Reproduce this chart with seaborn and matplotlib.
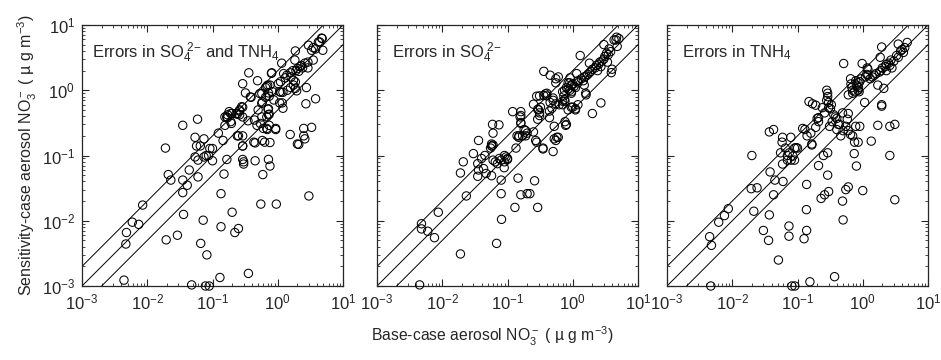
import numpy as np
import pandas as pd
import matplotlib
matplotlib.use("Agg")
import matplotlib.pyplot as plt
import seaborn as sns

# panel 1: errors in SO4 and TNH4
x1 = [4.8, 4.4, 2.95, 3.5, 4.9, 1.86, 3.3, 3.8, 3.5, 1.83, 1.15, 2.9, 2.6, 2.3, 2.2, 2.0, 1.9, 1.7,
      1.55, 1.38, 2.4, 2.1, 1.6, 0.81, 0.36, 1.23, 1.3, 0.49, 0.29, 1.1, 1.02, 1.74, 1.86, 0.76, 0.68,
      0.65, 1.4, 1.86, 1.57, 2.75, 1.12, 1.2, 0.72, 0.57, 0.32, 0.39, 0.65, 0.74, 0.87, 2.7, 1.2, 3.8,
      0.57, 0.72, 0.5, 0.72, 0.68, 0.29, 0.26, 0.24, 0.26, 0.19, 0.17, 0.35, 0.54, 0.6, 0.93, 0.74,
      0.155, 0.17, 0.24, 0.29, 1.55, 2.1, 2.5, 2.6, 3.3, 0.123, 0.054, 0.057, 0.065, 0.074, 0.054, 0.08,
      0.074, 0.091, 0.1, 0.1, 0.087, 0.06, 0.044, 0.035, 0.059, 0.019, 0.021, 0.023, 0.035, 0.035,
      0.041, 0.06, 0.036, 0.0195, 0.029, 0.0085, 0.0059, 0.0074, 0.0048, 0.0047, 0.0044, 0.048, 0.078,
      0.089, 0.13, 0.355, 0.135, 0.072, 0.066, 0.082, 0.135, 0.15, 0.166, 0.2, 0.22, 0.25, 0.29, 0.3,
      0.3, 0.29, 0.45, 0.59, 0.55, 0.95, 0.63, 0.72, 0.76, 0.76, 0.45, 0.68, 3.0, 0.2, 0.145, 0.165,
      0.18, 0.155, 0.19, 0.195, 0.23, 0.26, 0.28, 0.29, 0.25, 0.38, 0.44, 0.48, 0.57, 0.69, 0.93, 0.71,
      0.74, 0.58, 0.43, 0.29, 0.53, 0.58, 0.7, 0.8, 0.83, 1.07, 1.17, 1.07, 1.95, 1.74, 2.9, 2.0, 2.5,
      4.2, 4.7]
y1 = [6.2, 5.5, 4.9, 4.5, 4.1, 4.0, 4.1, 4.3, 2.9, 2.9, 2.6, 2.7, 2.6, 2.4, 2.3, 2.15, 2.0, 2.0,
      1.85, 1.7, 2.2, 1.95, 1.6, 1.85, 1.85, 1.8, 1.55, 1.4, 1.26, 1.35, 1.26, 1.42, 1.34, 1.2, 1.15,
      1.1, 1.0, 1.07, 1.1, 1.1, 0.93, 0.93, 0.91, 0.89, 0.91, 0.78, 0.78, 0.81, 0.71, 0.62, 0.53, 0.74,
      0.63, 0.52, 0.5, 0.42, 0.39, 0.55, 0.48, 0.43, 0.42, 0.44, 0.42, 0.34, 0.31, 0.26, 0.26, 0.29,
      0.39, 0.38, 0.2, 0.2, 0.21, 0.148, 0.26, 0.18, 0.27, 0.22, 0.19, 0.14, 0.14, 0.18, 0.095, 0.1,
      0.095, 0.128, 0.128, 0.083, 0.1, 0.085, 0.06, 0.29, 0.36, 0.13, 0.051, 0.042, 0.042, 0.027,
      0.035, 0.047, 0.0125, 0.0051, 0.006, 0.0174, 0.0095, 0.0088, 0.0066, 0.0044, 0.00123, 0.00104, 0.001,
      0.001, 0.00135, 0.00156, 0.0081, 0.0102, 0.0045, 0.003, 0.026, 0.052, 0.087, 0.0135, 0.0066, 0.0076, 0.087, 0.08,
      0.074, 0.14, 0.083, 0.051, 0.018, 0.018, 0.16, 0.087, 0.069, 0.158, 0.156, 0.26, 0.024, 0.44, 0.17, 0.39,
      0.47, 0.29, 0.33, 0.31, 0.44, 0.5, 0.56, 0.39, 0.2, 0.79, 0.35, 0.29, 0.39, 0.25, 0.25, 0.51,
      0.43, 0.17, 0.16, 0.14, 0.89, 0.66, 1.2, 1.82, 0.95, 0.95, 0.64, 0.64, 0.98, 1.2, 2.2, 0.15, 0.2,
      5.5, 6.3]

# panel 2: errors in SO4
x2 = [4.3, 4.6, 3.0, 4.8, 3.6, 3.8, 3.3, 3.5, 3.1, 3.0, 2.8, 2.6, 2.5, 2.3, 2.2, 2.0, 1.9, 1.8, 1.7,
      1.6, 1.5, 2.4, 2.7, 1.3, 1.8, 3.4, 3.9, 0.36, 0.6, 1.15, 0.55, 0.9, 0.95, 1.0, 1.2, 1.1, 0.85,
      0.95, 1.5, 1.6, 0.28, 0.31, 0.36, 0.4, 0.5, 0.7, 0.73, 0.7, 0.7, 0.75, 0.76, 0.62, 0.44, 0.48,
      0.44, 0.25, 0.29, 0.31, 0.31, 0.12, 0.16, 0.16, 0.16, 0.18, 0.19, 0.2, 0.19, 0.148, 0.135, 0.25,
      0.27, 0.28, 0.35, 0.5, 0.55, 0.6, 0.78, 0.85, 0.95, 1.1, 1.2, 2.0, 2.7, 0.059, 0.06, 0.074, 0.036,
      0.06, 0.057, 0.058, 0.045, 0.04, 0.035, 0.036, 0.035, 0.047, 0.06, 0.065, 0.07, 0.075, 0.08, 0.09,
      0.09, 0.095, 0.1, 0.1, 0.089, 0.043, 0.057, 0.03, 0.021, 0.019, 0.0234, 0.08, 0.08, 0.081, 0.068,
      0.13, 0.145, 0.16, 0.2, 0.22, 0.26, 0.29, 0.0087, 0.0048, 0.0048, 0.006, 0.0076, 0.019, 0.0045,
      0.055, 0.057, 0.156, 0.16, 0.14, 0.15, 0.17, 0.29, 0.3, 0.32, 0.38, 0.4, 0.45, 0.5, 0.55, 0.52,
      0.57, 0.75, 0.8, 0.85, 0.9, 0.95, 1.05, 0.91, 4.7, 5.1, 4.0, 1.58, 1.0, 1.1, 0.76, 0.8, 0.35,
      0.52, 0.55, 0.45, 1.2, 1.35, 1.45]
y2 = [5.9, 5.9, 5.0, 4.7, 4.3, 3.9, 3.7, 3.5, 3.3, 3.0, 2.8, 2.7, 2.5, 2.4, 2.2, 2.1, 1.95, 1.85, 1.75,
      1.65, 1.6, 2.0, 2.3, 3.4, 2.6, 2.7, 1.86, 1.95, 1.6, 1.8, 1.3, 1.3, 1.2, 1.25, 1.3, 1.1, 1.05,
      0.95, 1.2, 0.85, 0.81, 0.82, 0.83, 0.82, 0.76, 0.95, 0.82, 0.68, 0.6, 0.72, 0.68, 0.6, 0.48, 0.53,
      0.38, 0.61, 0.51, 0.45, 0.41, 0.47, 0.47, 0.41, 0.32, 0.25, 0.24, 0.22, 0.2, 0.19, 0.13, 0.23,
      0.17, 0.16, 0.126, 0.115, 0.17, 0.19, 0.29, 0.5, 0.55, 0.5, 0.6, 0.44, 0.64, 0.30, 0.22, 0.295, 0.17,
      0.145, 0.15, 0.14, 0.1, 0.09, 0.075, 0.06, 0.048, 0.053, 0.085, 0.08, 0.075, 0.09, 0.085, 0.08,
      0.1, 0.095, 0.09, 0.087, 0.065, 0.063, 0.049, 0.107, 0.08, 0.054, 0.024, 0.042, 0.026, 0.0105, 0.0045,
      0.016, 0.045, 0.025, 0.026, 0.026, 0.041, 0.016, 0.0135, 0.009, 0.0075, 0.0069, 0.0055, 0.0031, 0.00104,
      0.13, 0.14, 0.39, 0.31, 0.2, 0.2, 0.2, 0.36, 0.5, 0.55, 0.88, 0.9, 0.65, 0.7, 0.62, 0.28,
      0.19, 1.0, 1.1, 1.3, 1.0, 0.9, 1.15, 1.55, 6.5, 6.2, 2.1, 0.9, 0.55, 0.52, 0.33, 0.3, 0.13,
      0.18, 1.5, 1.7, 1.4, 1.5, 1.4]

# panel 3: errors in TNH4
x3 = [3.5, 4.8, 4.0, 3.8, 4.2, 1.95, 1.85, 0.98, 1.17, 0.51, 3.5, 3.0, 2.7, 2.5, 2.3, 2.2, 2.0, 1.9,
      1.8, 1.6, 1.5, 1.4, 1.3, 2.6, 2.8, 1.1, 1.15, 1.2, 0.85, 0.8, 0.86, 0.85, 0.88, 0.65, 0.66, 0.68,
      0.7, 0.7, 1.7, 2.1, 1.07, 1.95, 1.95, 0.28, 0.29, 0.29, 0.28, 0.3, 0.15, 0.17, 0.19, 0.24, 0.3,
      0.32, 0.38, 0.4, 0.34, 0.42, 0.31, 0.4, 0.58, 0.49, 0.6, 0.65, 0.7, 0.46, 0.78, 0.9, 0.75, 0.85,
      1.35, 1.7, 2.6, 3.1, 0.2, 0.21, 0.19, 0.166, 0.166, 0.12, 0.13, 0.09, 0.095, 0.1, 0.07, 0.075,
      0.085, 0.08, 0.07, 0.059, 0.055, 0.058, 0.043, 0.037, 0.059, 0.079, 0.038, 0.045, 0.06, 0.043,
      0.02, 0.0195, 0.024, 0.0214, 0.037, 0.03, 0.036, 0.051, 0.074, 0.074, 0.126, 0.138, 0.137, 0.138,
      0.21, 0.25, 0.29, 0.29, 0.23, 0.26, 0.3, 0.49, 0.55, 0.6, 0.5, 0.74, 0.8, 1.0, 2.6, 3.1, 0.0045,
      0.0048, 0.0062, 0.0076, 0.0087, 0.0047, 0.082, 0.091, 0.155, 0.37, 0.21, 0.26, 0.33, 0.36, 0.44,
      0.5, 0.55, 0.6, 0.75, 0.78, 0.82, 0.9, 0.6, 0.14, 0.16, 0.065, 0.09, 1.2, 0.95, 2.3, 3.3, 4.4]
y3 = [5.1, 5.4, 4.2, 4.0, 3.8, 4.6, 3.2, 2.57, 2.2, 2.57, 3.2, 2.8, 2.9, 2.6, 2.5, 2.3, 2.2, 2.0,
      1.9, 1.8, 1.7, 1.6, 1.5, 2.4, 2.2, 1.6, 1.75, 1.7, 1.3, 1.2, 1.1, 1.0, 0.95, 1.5, 1.25, 1.1,
      1.0, 0.9, 1.2, 1.07, 0.65, 0.6, 0.57, 1.0, 0.9, 0.8, 0.7, 0.65, 0.67, 0.62, 0.59, 0.54, 0.54,
      0.52, 0.39, 0.37, 0.33, 0.3, 0.28, 0.25, 0.36, 0.45, 0.24, 0.21, 0.2, 0.2, 0.28, 0.28, 0.16, 0.16,
      0.166, 0.29, 0.28, 0.3, 0.37, 0.33, 0.27, 0.15, 0.145, 0.26, 0.25, 0.13, 0.132, 0.13, 0.1, 0.11,
      0.098, 0.085, 0.085, 0.074, 0.11, 0.16, 0.25, 0.23, 0.19, 0.19, 0.056, 0.042, 0.04, 0.025,
      0.1, 0.031, 0.032, 0.014, 0.0123, 0.0071, 0.005, 0.0025, 0.0083, 0.0058, 0.0053, 0.0071, 0.0148, 0.036,
      0.07, 0.1, 0.11, 0.05, 0.022, 0.025, 0.028, 0.02, 0.03, 0.033, 0.0103, 0.107, 0.069, 0.029, 0.1, 0.021, 0.0057,
      0.0042, 0.0095, 0.012, 0.0153, 0.001, 0.001, 0.001, 0.00116, 0.00139, 0.38, 0.45, 0.6, 0.42, 0.3,
      0.24, 0.28, 0.44, 0.95, 1.4, 1.15, 1.35, 0.85, 0.2, 0.22, 0.13, 0.085, 2.1, 1.5, 2.0, 3.4, 4.5]

titles = [r"Errors in SO$_4^{\ 2\mathsf{-}}$ and TNH$_4$",
          r"Errors in SO$_4^{\ 2\mathsf{-}}$",
          r"Errors in TNH$_4$"]
ratios = [0.5, 1.0, 2.0]
ref = np.array([1e-3, 1e1])

sns.set_style("ticks")
plt.rcParams["font.family"] = ["Liberation Sans", "DejaVu Sans"]
plt.rcParams["mathtext.fontset"] = "custom"
plt.rcParams["mathtext.rm"] = "Liberation Sans"
plt.rcParams["mathtext.it"] = "Liberation Sans:italic"
plt.rcParams["mathtext.sf"] = "Liberation Sans"

fig = plt.figure(figsize=(9.41, 3.6), dpi=100)
lefts = [82 / 941, 377 / 941, 667 / 941]
data = [(x1, y1), (x2, y2), (x3, y3)]
title_x = [0.04, 0.057, 0.057]

for i, (xs, ys) in enumerate(data):
    ax = fig.add_axes([lefts[i], 74 / 360, 261 / 941, 261 / 360])
    ax.set_xscale("log")
    ax.set_yscale("log")
    df = pd.DataFrame({"base": xs, "sens": ys})
    for r in ratios:
        sns.lineplot(x=ref, y=ref * r, ax=ax, color="black", linewidth=0.7)
    sns.scatterplot(data=df, x="base", y="sens", ax=ax, marker="o", s=36,
                    facecolor="none", edgecolor="black", linewidth=0.75, clip_on=False, zorder=3)
    ax.set_xlim(1e-3, 1e1)
    ax.set_ylim(1e-3, 1e1)
    ax.set_xlabel("")
    ax.set_ylabel("")
    ax.tick_params(which="both", direction="in", top=True, right=True, labelsize=12)
    ax.tick_params(which="major", length=5, width=0.8, pad=5)
    ax.tick_params(which="minor", length=2.5, width=0.6)
    for sp in ax.spines.values():
        sp.set_linewidth(0.9)
    if i > 0:
        ax.tick_params(labelleft=False)
    ax.text(title_x[i], 0.895, titles[i], transform=ax.transAxes, fontsize=12, va="center", ha="left")
    if i == 0:
        ax.set_ylabel(r"Sensitivity-case aerosol NO$_3^-$ ( µ g m$^{-3}$)", fontsize=11.5, labelpad=2)

fig.text(492 / 941, 0.065, r"Base-case aerosol NO$_3^-$ ( µ g m$^{-3}$)", ha="center", va="center", fontsize=11.3)

plt.savefig("out.png", dpi=100)
